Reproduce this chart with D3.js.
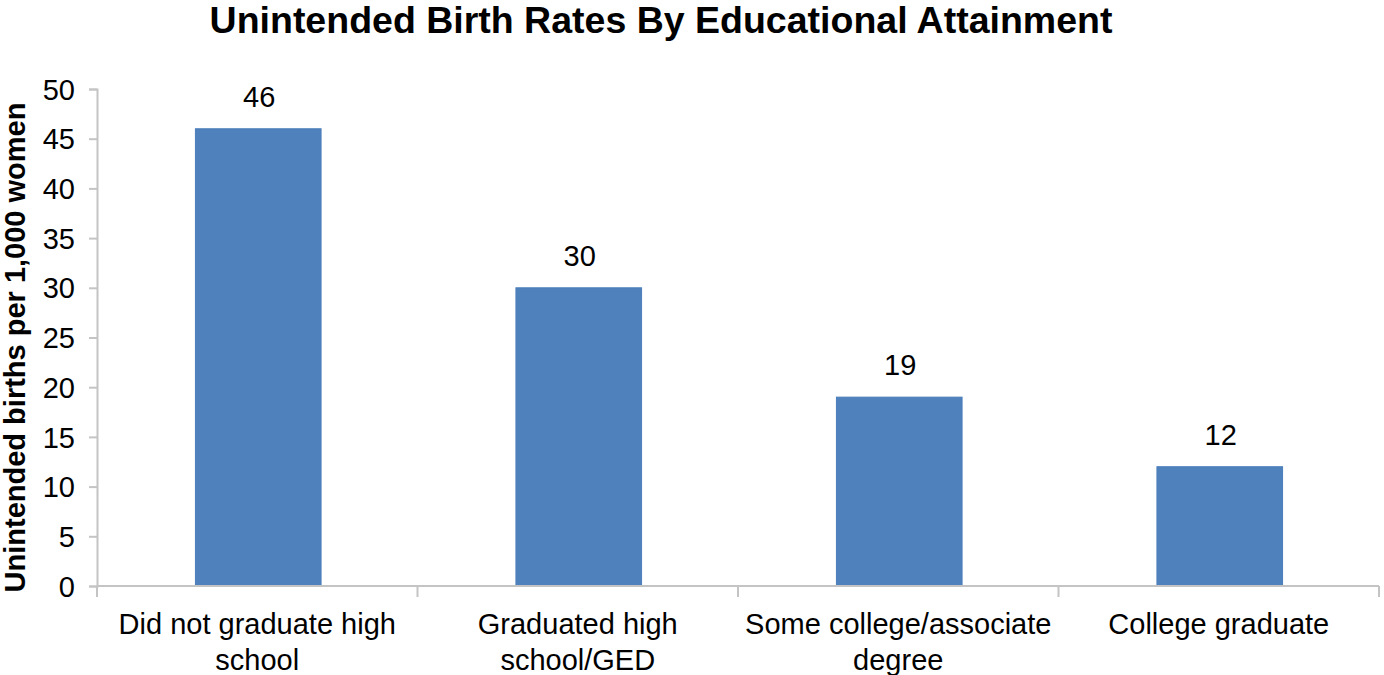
<!DOCTYPE html>
<html>
<head>
<meta charset="utf-8">
<script src="https://cdn.jsdelivr.net/npm/d3@7"></script>
<style>
  html, body { margin: 0; padding: 0; background: #fff; }
  svg { display: block; }
  text { font-family: "Liberation Sans", Arial, Helvetica, sans-serif; fill: #000; }
</style>
</head>
<body>
<svg id="chart" width="1384" height="675"></svg>
<script>
const categories = [
  ["Did not graduate high", "school"],
  ["Graduated high", "school/GED"],
  ["Some college/associate", "degree"],
  ["College graduate"]
];
const values = [46, 30, 19, 12];
const yTicks = [0, 5, 10, 15, 20, 25, 30, 35, 40, 45, 50];
const title = "Unintended Birth Rates By Educational Attainment";
const yLabel = "Unintended births per 1,000 women";

const svg = d3.select("#chart");
const mLeft = 97, mRight = 1379, mTop = 89, mBottom = 586;
const keys = categories.map((c, i) => i);

const x = d3.scaleBand().domain(keys).range([mLeft, mRight]).padding(0);
const y = d3.scaleLinear().domain([0, 50]).range([mBottom, mTop]);
const barW = x.bandwidth() * 0.392;
const axisColor = "#c4c4c4";
const fs = 29;

// bars
svg.append("g").selectAll("rect").data(values).join("rect")
  .attr("x", (d, i) => x(i) + (x.bandwidth() - barW) / 2 + 1)
  .attr("y", d => y(d))
  .attr("width", barW)
  .attr("height", d => y(0) - y(d))
  .attr("fill", "#4f81bd")
  .attr("stroke", "#4a7ebb")
  .attr("stroke-width", 1);

// y axis
const yAxis = svg.append("g").attr("transform", `translate(${mLeft},0)`)
  .call(d3.axisLeft(y).tickValues(yTicks).tickSize(8).tickPadding(14));
yAxis.select(".domain").attr("stroke", axisColor).attr("stroke-width", 2);
yAxis.selectAll(".tick line").attr("stroke", axisColor).attr("stroke-width", 2);
yAxis.selectAll(".tick text").attr("font-size", fs).attr("font-family", "Liberation Sans, Arial, sans-serif").attr("fill", "#000").attr("dy", "0.35em");

// x axis line and ticks at band boundaries
const xg = svg.append("g");
xg.append("line").attr("x1", mLeft).attr("x2", mRight).attr("y1", y(0)).attr("y2", y(0))
  .attr("stroke", axisColor).attr("stroke-width", 2);
const boundaries = keys.map(k => x(k)).concat([x(keys[keys.length - 1]) + x.bandwidth()]);
xg.selectAll("line.t").data(boundaries).join("line").attr("class", "t")
  .attr("x1", d => d).attr("x2", d => d)
  .attr("y1", y(0)).attr("y2", y(0) + 11)
  .attr("stroke", axisColor).attr("stroke-width", 2);

// category labels
const cl = svg.append("g").selectAll("text").data(categories).join("text")
  .attr("text-anchor", "middle")
  .attr("font-size", fs)
  .attr("transform", (d, i) => `translate(${x(i) + x.bandwidth() / 2},634)`);
cl.selectAll("tspan").data(d => d).join("tspan")
  .attr("x", 0).attr("dy", (d, j) => j === 0 ? 0 : 36).text(d => d);

// data labels
svg.append("g").selectAll("text").data(values).join("text")
  .attr("x", (d, i) => x(i) + x.bandwidth() / 2 + 2)
  .attr("y", d => y(d) - 22)
  .attr("text-anchor", "middle")
  .attr("font-size", fs)
  .text(d => d);

// title
svg.append("text").attr("x", 661).attr("y", 33).attr("text-anchor", "middle")
  .attr("font-size", 37.5).attr("font-weight", "bold").text(title);

// y label
svg.append("text").attr("transform", `translate(25,347.5) rotate(-90)`)
  .attr("text-anchor", "middle").attr("font-size", 29).attr("font-weight", "bold").text(yLabel);
</script>
</body>
</html>
